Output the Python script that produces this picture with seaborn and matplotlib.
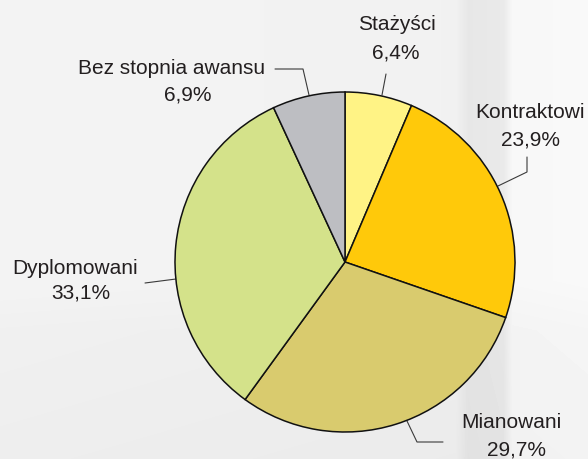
import matplotlib
matplotlib.use("Agg")
import matplotlib.pyplot as plt
import numpy as np
import seaborn as sns

# dane
labels = ["Stażyści", "Kontraktowi", "Mianowani", "Dyplomowani", "Bez stopnia awansu"]
shares = [6.4, 23.9, 29.7, 33.1, 6.9]
colors = ["#FFF385", "#FFC90A", "#D9CB6E", "#D4E28A", "#BDBEC2"]

W, H = 588, 459

sns.set_style("white")
plt.rcParams["font.family"] = ["Liberation Sans", "DejaVu Sans"]

fig = plt.figure(figsize=(W / 100, H / 100), dpi=100)

# tło: jasny, lekko zróżnicowany szary
bg = fig.add_axes([0, 0, 1, 1])
xs = np.arange(W)
row = np.interp(xs, [0, 455, 468, 503, 512, W], [0.955, 0.945, 0.905, 0.915, 0.97, 0.975])
ys = np.arange(H)
colfac = np.interp(ys, [0, 280, 330, H], [1.0, 1.0, 0.985, 0.975])
img = np.clip(np.outer(colfac, row), 0, 1)
bg.imshow(img, cmap="gray", vmin=0, vmax=1, aspect="auto", extent=[0, W, H, 0])
bg.set_xlim(0, W)
bg.set_ylim(H, 0)
bg.axis("off")

# wykres kołowy: środek (345, 262), promień 170 px
cx, cy, r = 345, 262, 170
ax = fig.add_axes([(cx - r) / W, (H - cy - r) / H, 2 * r / W, 2 * r / H])
ax.pie(
    shares,
    colors=colors,
    startangle=90,
    counterclock=False,
    wedgeprops={"edgecolor": "#111111", "linewidth": 1.1},
)
ax.set_xlim(-1, 1)
ax.set_ylim(-1, 1)
ax.set_aspect("auto")
ax.axis("off")

pct_labels = [f"{v:.1f}%".replace(".", ",") for v in shares]

# rozmieszczenie etykiet (piksele, y od góry)
layout = {
    "Stażyści": ((397, 24), (396, 53), [(386, 74), (382, 95)]),
    "Kontraktowi": ((530, 112), (530, 140), [(527, 157), (527, 172), (498, 186)]),
    "Mianowani": ((511, 423), (517, 450), [(443, 442), (417, 442), (407, 421)]),
    "Dyplomowani": ((75, 269), (81, 293), [(145, 283), (176, 279)]),
    "Bez stopnia awansu": ((172, 68), (188, 95), [(275, 69), (303, 69), (309, 95)]),
}

text_color = "#231F20"
for name, pct in zip(labels, pct_labels):
    name_pos, pct_pos, leader = layout[name]
    bg.text(name_pos[0], name_pos[1], name, ha="center", va="center",
            fontsize=15, color=text_color)
    bg.text(pct_pos[0], pct_pos[1], pct, ha="center", va="center",
            fontsize=15, color=text_color)
    lx = [p[0] for p in leader]
    ly = [p[1] for p in leader]
    bg.plot(lx, ly, color="#3a3a3a", linewidth=0.8, zorder=5)

fig.savefig("out.png", dpi=100)
plt.close(fig)
